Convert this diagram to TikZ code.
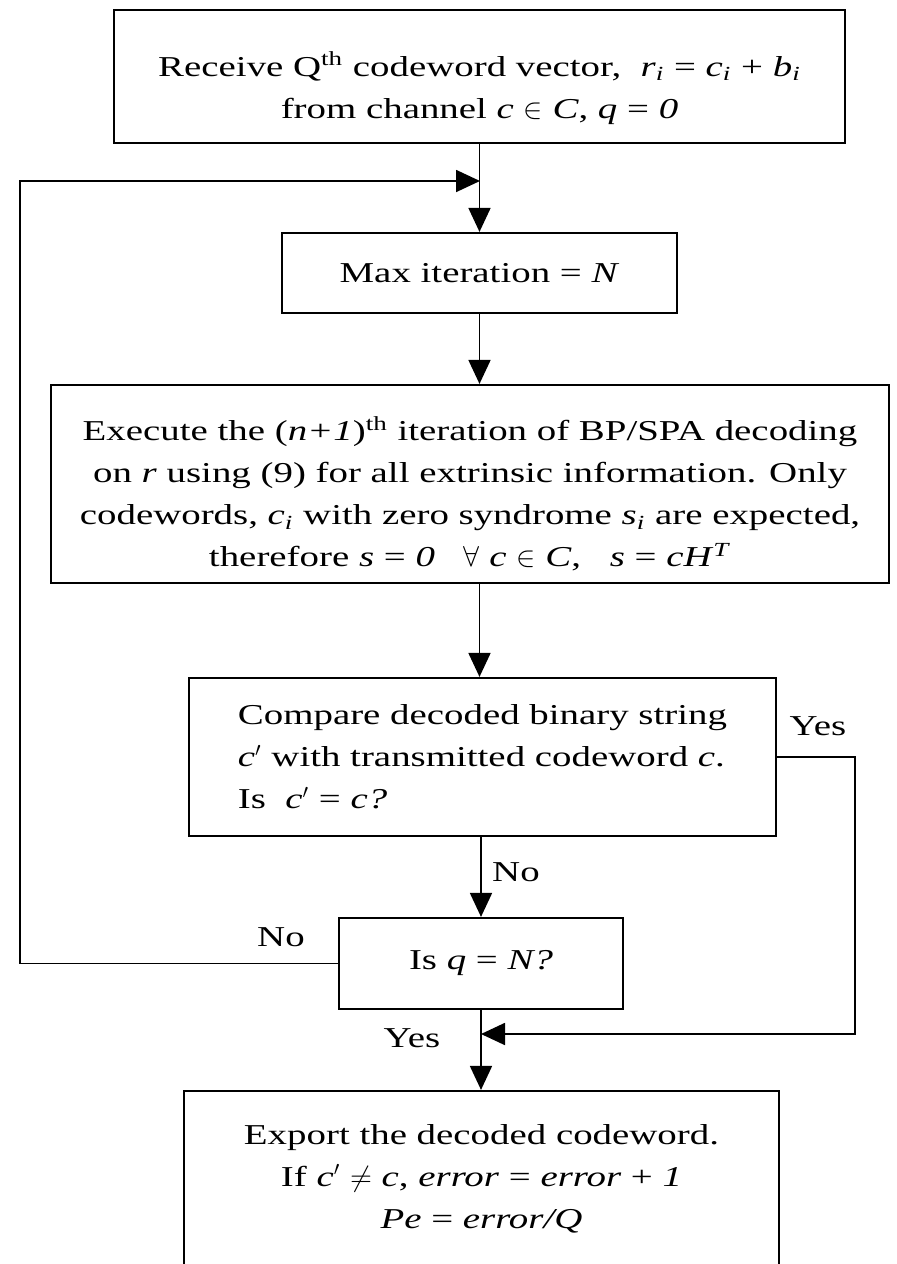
\documentclass[tikz,border=0pt]{standalone}
\usepackage{fontspec}
\setmainfont{Liberation Serif}[FakeStretch=1.35]
\usetikzlibrary{arrows.meta}
\tikzset{
  fbox/.style = {align=center, inner sep=0pt, text centered,
    font=\fontsize{14.4}{21}\selectfont},
  fc_box/.style = {fbox, rectangle, draw, line width=1.1pt},% step box
  fc_left/.style = {fc_box, align=left},% step box, text on the left
  fc_lbl/.style = {fbox}% yes/no label
}

\begin{document}
\begin{tikzpicture}[->,>={Triangle[width=11pt,length=12pt]},
  x=0.5pt, y=-0.5pt, line width=0.9pt]
\useasboundingbox (0,0) rectangle (896,1264);
\node [fc_box, minimum width=365.5pt, minimum height=66.5pt] (recv) at (479.5,76.5)
  {\rule{0pt}{24pt}Receive Q\textsuperscript{th} codeword vector, \ \textit{r\textsubscript{i}} = \textit{c\textsubscript{i}} + \textit{b\textsubscript{i}}\\
   from channel \textit{c} $\in$ \textit{C}, \textit{q} = \textit{0}};
\node [fc_box, minimum width=197.5pt, minimum height=40pt] (maxit) at (479.5,273)
  {Max iteration = \textit{N}};
\node [fc_box, minimum width=419pt, minimum height=99pt] (exec) at (470,484)
  {\rule{0pt}{22pt}Execute the (\textit{n+1})\textsuperscript{th} iteration of BP/SPA decoding\\
   on \textit{r} using (9) for all extrinsic information. Only\\
   codewords, \textit{c\textsubscript{i}} with zero syndrome \textit{s\textsubscript{i}} are expected,\\
   therefore \textit{s} = \textit{0}\quad $\forall$ \textit{c} $\in$ \textit{C},\quad \textit{s} = \textit{cH}\textsuperscript{\textit{T}}};
\node [fc_left, minimum width=293.5pt, minimum height=79pt] (cmp) at (482.5,757)
  {Compare decoded binary string\\
   \textit{c}$'$ with transmitted codeword \textit{c}.\\
   Is \ \textit{c}$'$ = \textit{c?}};
\node [fc_box, minimum width=142pt, minimum height=45.5pt] (isq) at (481,963.5)
  {Is \textit{q} = \textit{N?}};
\node [fc_box, minimum width=297.5pt, minimum height=87.5pt] (expt) at (481.5,1178.5)
  {Export the decoded codeword.\\
   If \textit{c}$'$ $\neq$ \textit{c}, \textit{error} = \textit{error} + \textit{1}\\
   \textit{Pe} = \textit{error/Q}};
% labels
\node [fc_lbl] (yes1) at (818,726) {Yes};
\node [fc_lbl] (no1) at (516,872) {No};
\node [fc_lbl] (no2) at (281,937) {No};
\node [fc_lbl] (yes2) at (412,1038) {Yes};
% loop corners
\coordinate (j1) at (480,181);
\coordinate (j2) at (481,1034);
\coordinate (fbl) at (20,0);
\coordinate (fbr) at (855,0);
\draw (recv.south) -- (maxit.north);
\draw (maxit.south) -- (maxit.south |- exec.north);
\draw (maxit.south |- exec.south) -- (maxit.south |- cmp.north);
\draw (isq.north |- cmp.south) -- (isq.north);
\draw (isq.south) -- (isq.south |- expt.north);
\draw (isq.west) -- (isq.west -| fbl) -- (fbl |- j1) -- (j1);
\draw (cmp.east) -- (cmp.east -| fbr) -- (fbr |- j2) -- (j2);
\end{tikzpicture}
\end{document}
